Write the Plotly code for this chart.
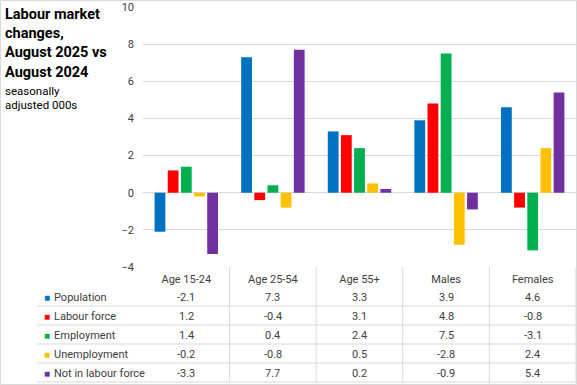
import plotly.graph_objects as go

categories = ["Age 15-24", "Age 25-54", "Age 55+", "Males", "Females"]
series_names = ["Population", "Labour force", "Employment", "Unemployment", "Not in labour force"]
population = [-2.1, 7.3, 3.3, 3.9, 4.6]
labour_force = [1.2, -0.4, 3.1, 4.8, -0.8]
employment = [1.4, 0.4, 2.4, 7.5, -3.1]
unemployment = [-0.2, -0.8, 0.5, -2.8, 2.4]
not_in_lf = [-3.3, 7.7, 0.2, -0.9, 5.4]
series_values = [population, labour_force, employment, unemployment, not_in_lf]
colors = ["#0070C0", "#FF0000", "#00B050", "#FFC000", "#7030A0"]
title_lines = ["Labour market", "changes,", "August 2025 vs", "August 2024"]
subtitle_lines = ["seasonally", "adjusted 000s"]

W, H = 577, 385
FONT = "Roboto"
TXT = "#404040"
GRID = "#D9D9D9"

def px(x):
    return x / W

def py(y):
    return 1 - y / H

fig = go.Figure()
for name, vals, col in zip(series_names, series_values, colors):
    fig.add_trace(go.Bar(x=categories, y=vals, name=name, marker_color=col,
                         marker_line_width=0, showlegend=False))

annotations = []
shapes = []

# title
title_y = [14, 33.5, 52.5, 72]
for t, y in zip(title_lines, title_y):
    annotations.append(dict(text=f"<b>{t}</b>", x=px(3), y=py(y), xref="paper", yref="paper",
                            xanchor="left", yanchor="middle", showarrow=False,
                            font=dict(family=FONT, size=14.5, color="#000000")))
sub_y = [91, 105]
for t, y in zip(subtitle_lines, sub_y):
    annotations.append(dict(text=t, x=px(3), y=py(y), xref="paper", yref="paper",
                            xanchor="left", yanchor="middle", showarrow=False,
                            font=dict(family=FONT, size=11.5, color="#000000")))

# data table
row_y = [297, 316, 335, 354, 373]
for name, vals, col, y in zip(series_names, series_values, colors, row_y):
    annotations.append(dict(text="■", x=px(42), y=py(y), xref="paper", yref="paper",
                            xanchor="left", yanchor="middle", showarrow=False,
                            font=dict(family=FONT, size=10, color=col)))
    annotations.append(dict(text=name, x=px(52), y=py(y), xref="paper", yref="paper",
                            xanchor="left", yanchor="middle", showarrow=False,
                            font=dict(family=FONT, size=11, color=TXT)))
    for c, v in zip(categories, vals):
        annotations.append(dict(text=f"{v:.1f}", x=c, y=py(y), xref="x", yref="paper",
                                xanchor="center", yanchor="middle", showarrow=False,
                                font=dict(family=FONT, size=11, color=TXT)))

# table lines
for yl in [306, 325, 344, 363, 382]:
    shapes.append(dict(type="line", xref="paper", yref="paper", x0=px(37), x1=1,
                       y0=py(yl), y1=py(yl), line=dict(color=GRID, width=1)))
for i in range(1, len(categories)):
    shapes.append(dict(type="line", xref="x", yref="paper", x0=i - 0.5, x1=i - 0.5,
                       y0=py(267), y1=py(383), line=dict(color=GRID, width=1)))
shapes.append(dict(type="line", xref="paper", yref="paper", x0=1 - px(1), x1=1 - px(1),
                   y0=py(267), y1=py(383), line=dict(color=GRID, width=1)))
# chart border
shapes.append(dict(type="rect", xref="paper", yref="paper", x0=px(0.5), x1=1 - px(0.5),
                   y0=py(H - 0.5), y1=py(0.5), line=dict(color=GRID, width=1)))

fig.update_layout(
    width=W, height=H,
    margin=dict(l=0, r=0, t=0, b=0, autoexpand=False),
    paper_bgcolor="white", plot_bgcolor="white",
    barmode="group", bargap=0.24, bargroupgap=0.18,
    font=dict(family=FONT, size=11, color=TXT),
    xaxis=dict(domain=[px(143), px(576)], showgrid=False, zeroline=False,
               showline=False, ticks="", tickfont=dict(size=11, color=TXT),
               ticklabelstandoff=4, automargin=False),
    yaxis=dict(domain=[py(267), py(7)], range=[-4, 10], dtick=2, showgrid=True,
               gridcolor=GRID, gridwidth=1, zeroline=True, zerolinecolor=GRID,
               zerolinewidth=1, showline=False, ticks="",
               tickfont=dict(size=11, color=TXT), ticklabelstandoff=8, automargin=False),
    annotations=annotations, shapes=shapes,
)
fig.write_html("out.html", config={"displayModeBar": False},
               post_script="document.body.style.margin='0';document.body.style.overflow='hidden';")
